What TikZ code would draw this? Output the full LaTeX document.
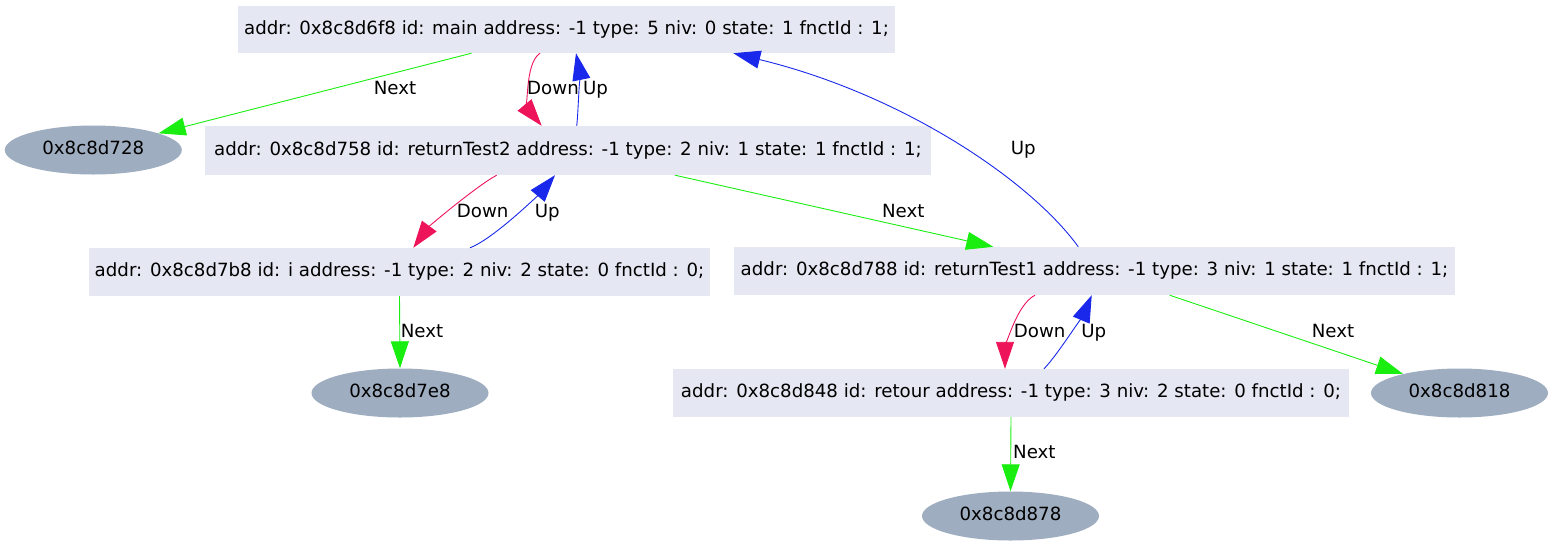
\documentclass[tikz,border=0pt]{standalone}
\usepackage{fontspec}
\setmainfont{DejaVu Sans}
\usetikzlibrary{arrows.meta,shapes.geometric}
\definecolor{boxfill}{RGB}{229,232,242}
\definecolor{ellfill}{RGB}{159,173,192}
\definecolor{nextc}{RGB}{26,238,17}
\definecolor{downc}{RGB}{238,20,90}
\definecolor{upc}{RGB}{25,40,235}
\begin{document}
\begin{tikzpicture}[x=1pt,y=-1pt,
  font=\fontsize{18.2pt}{22pt}\selectfont,
  rec/.style={rectangle, fill=boxfill, inner sep=0pt, minimum height=48pt, text height=13.3pt, text depth=3.5pt},
  ell/.style={ellipse, fill=ellfill, inner sep=0pt, minimum width=177pt, minimum height=49pt, text height=13.3pt, text depth=3.5pt},
  lbl/.style={inner sep=0pt, text height=13.3pt, text depth=0pt},
  edgebase/.style={line width=0.9pt, -{Triangle[length=27pt,width=18pt]}},
  nextE/.style={edgebase, draw=nextc},
  downE/.style={edgebase, draw=downc},
  upE/.style={edgebase, draw=upc},
]
\useasboundingbox (0,0) rectangle (1553,547);

% nodes
\node[rec, minimum width=657pt, minimum height=47pt] (main) at (566.5,29.5) {addr: 0x8c8d6f8 id: main address: -1 type: 5 niv: 0 state: 1 fnctId : 1;};
\node[rec, minimum width=726pt, minimum height=49pt] (rt2) at (568,150.5) {addr: 0x8c8d758 id: returnTest2 address: -1 type: 2 niv: 1 state: 1 fnctId : 1;};
\node[rec, minimum width=621pt] (vi) at (399.5,272) {addr: 0x8c8d7b8 id: i address: -1 type: 2 niv: 2 state: 0 fnctId : 0;};
\node[rec, minimum width=721pt] (rt1) at (1094.5,271) {addr: 0x8c8d788 id: returnTest1 address: -1 type: 3 niv: 1 state: 1 fnctId : 1;};
\node[rec, minimum width=676pt] (ret) at (1011,393) {addr: 0x8c8d848 id: retour address: -1 type: 3 niv: 2 state: 0 fnctId : 0;};
\node[ell] (e728) at (93.3,150) {0x8c8d728};
\node[ell] (e7e8) at (400,393) {0x8c8d7e8};
\node[ell] (e818) at (1459.5,393) {0x8c8d818};
\node[ell] (e878) at (1010.5,516) {0x8c8d878};

% edges
\draw[nextE] ([xshift=-95pt]main.south) -- (e728);
\draw[downE] ([xshift=-26.5pt]main.south) .. controls (524,64) and (529.2,110.7) .. ([xshift=-26.3pt]rt2.north);
\draw[upE] ([xshift=8.7pt]rt2.north) .. controls (578.5,112) and (579,68) .. ([xshift=9.5pt]main.south);
\draw[downE] ([xshift=-71.3pt]rt2.south) .. controls (475,187) and (428.8,226.7) .. ([xshift=13.8pt]vi.north);
\draw[upE] ([xshift=70.5pt]vi.north) .. controls (495,238) and (541,192) .. ([xshift=-13pt]rt2.south);
\draw[nextE] ([xshift=107pt]rt2.south) -- ([xshift=-101.2pt]rt1.north);
\draw[upE] ([xshift=-16.2pt]rt1.north) .. controls (1030,180) and (902,94.1) .. ([xshift=166.8pt]main.south);
\draw[nextE] (vi.south) -- (e7e8.north);
\draw[downE] ([xshift=-59.5pt]rt1.south) .. controls (1015,305) and (1005,353.3) .. ([xshift=-6pt]ret.north);
\draw[upE] ([xshift=33pt]ret.north) .. controls (1060,352) and (1085.9,309) .. ([xshift=-2.8pt]rt1.south);
\draw[nextE] ([xshift=75.2pt]rt1.south) -- (e818);
\draw[nextE] (ret.south) -- (e878.north);

% labels
\node[lbl] (l1) at (395,87.7) {Next};
\node[lbl] (l2) at (553,87.7) {Down};
\node[lbl] (l3) at (595.5,87.7) {Up};
\node[lbl] (l4) at (482.7,210.7) {Down};
\node[lbl] (l5) at (547.3,210.7) {Up};
\node[lbl] (l6) at (903.3,210.7) {Next};
\node[lbl] (l7) at (1023.3,148.3) {Up};
\node[lbl] (l8) at (422,330.7) {Next};
\node[lbl] (l9) at (1039.7,330.7) {Down};
\node[lbl] (l10) at (1093.8,330.7) {Up};
\node[lbl] (l11) at (1333,330.7) {Next};
\node[lbl] (l12) at (1034.4,452.3) {Next};
\end{tikzpicture}
\end{document}
